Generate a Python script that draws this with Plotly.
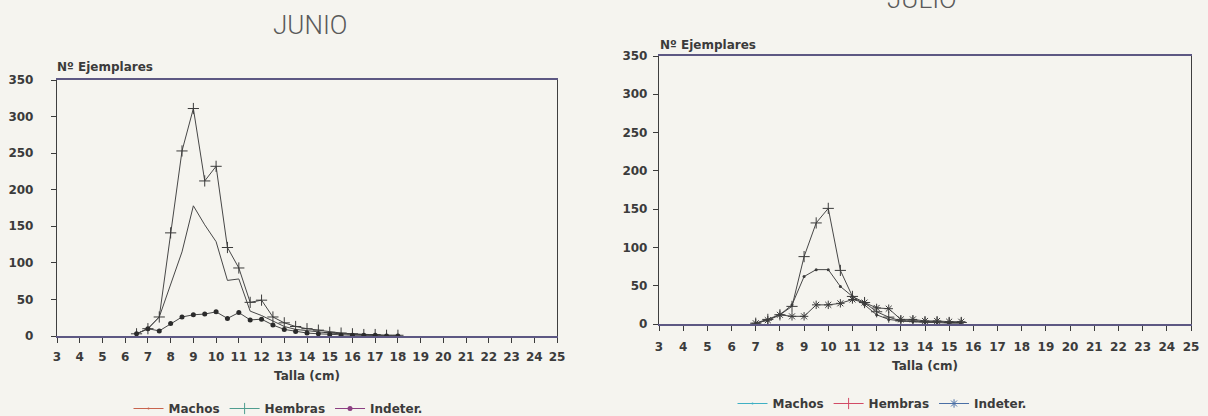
import plotly.graph_objects as go

# Length-frequency of specimens by sex, June and July samples
talla_junio = [6.5, 7, 7.5, 8, 8.5, 9, 9.5, 10, 10.5, 11, 11.5, 12,
               12.5, 13, 13.5, 14, 14.5, 15, 15.5, 16, 16.5, 17, 17.5, 18]
machos_junio = [3, 10, 26, 70, 115, 178, 152, 129, 76, 78, 34, 28,
                20, 13, 9, 7, 5, 4, 3, 2, 1, 1, 0, 0]
hembras_junio = [3, 10, 26, 141, 253, 311, 212, 232, 121, 93, 46, 49,
                 26, 18, 13, 10, 8, 5, 4, 3, 2, 2, 1, 1]
indeter_junio = [3, 10, 7, 17, 26, 29, 30, 33, 24, 32, 22, 23,
                 15, 9, 6, 4, 3, 2, 1, 1, 1, 1, 0, 0]

talla_julio = [7, 7.5, 8, 8.5, 9, 9.5, 10, 10.5, 11, 11.5, 12, 12.5,
               13, 13.5, 14, 14.5, 15, 15.5]
machos_julio = [1, 5, 12, 25, 62, 71, 71, 49, 36, 25, 12, 6,
                4, 3, 2, 2, 1, 1]
hembras_julio = [1, 6, 12, 23, 88, 132, 151, 70, 36, 28, 16, 9,
                 4, 4, 3, 3, 2, 2]
indeter_julio = [1, 5, 12, 10, 10, 25, 25, 27, 32, 28, 21, 20,
                 6, 6, 4, 4, 3, 3]

series_names = ["Machos", "Hembras", "Indeter."]
month_titles = ["JUNIO", "JULIO"]
x_tick_values = list(range(3, 26))
y_tick_values = list(range(0, 351, 50))

W, H = 1208, 416
PAPER = "#f5f4ef"
INK = "#3b3b3b"
LINE = "#474747"
FONT = "DejaVu Sans"


def fx(p):
    return p / W


def fy(p):
    return 1 - p / H


fig = go.Figure()

# --- June panel -----------------------------------------------------------
fig.add_trace(go.Scatter(x=talla_junio, y=machos_junio, mode="lines",
                         line=dict(color=LINE, width=1),
                         xaxis="x", yaxis="y", showlegend=False))
fig.add_trace(go.Scatter(x=talla_junio, y=hembras_junio, mode="lines+markers",
                         line=dict(color=LINE, width=1),
                         marker=dict(symbol="cross-thin", size=8,
                                     line=dict(color=INK, width=1)),
                         xaxis="x", yaxis="y", showlegend=False))
fig.add_trace(go.Scatter(x=talla_junio, y=indeter_junio, mode="lines+markers",
                         line=dict(color=LINE, width=1),
                         marker=dict(symbol="circle", size=5, color="#2b2b2b"),
                         xaxis="x", yaxis="y", showlegend=False))

# --- July panel -----------------------------------------------------------
fig.add_trace(go.Scatter(x=talla_julio, y=machos_julio, mode="lines+markers",
                         line=dict(color=LINE, width=1),
                         marker=dict(symbol="circle", size=3, color=INK),
                         xaxis="x2", yaxis="y2", showlegend=False))
fig.add_trace(go.Scatter(x=talla_julio, y=hembras_julio, mode="lines+markers",
                         line=dict(color=LINE, width=1),
                         marker=dict(symbol="cross-thin", size=8,
                                     line=dict(color=INK, width=1)),
                         xaxis="x2", yaxis="y2", showlegend=False))
fig.add_trace(go.Scatter(x=talla_julio, y=indeter_julio, mode="lines+markers",
                         line=dict(color=LINE, width=1),
                         marker=dict(symbol="asterisk", size=7,
                                     line=dict(color=INK, width=1)),
                         xaxis="x2", yaxis="y2", showlegend=False))

# --- legend keys (coloured, as printed under each panel) -----------------
legend_keys = [
    ("legend", "x", "y", "#c8644e", dict(symbol="circle", size=2, color="#c8644e")),
    ("legend", "x", "y", "#4f9d8f", dict(symbol="cross-thin", size=8,
                                         line=dict(color="#4f9d8f", width=1))),
    ("legend", "x", "y", "#8c3f82", dict(symbol="circle", size=5, color="#8c3f82")),
    ("legend2", "x2", "y2", "#3fb0c4", dict(symbol="circle", size=2, color="#3fb0c4")),
    ("legend2", "x2", "y2", "#d24b66", dict(symbol="cross-thin", size=8,
                                            line=dict(color="#d24b66", width=1))),
    ("legend2", "x2", "y2", "#4a6fa5", dict(symbol="asterisk", size=7,
                                            line=dict(color="#4a6fa5", width=1))),
]
for i, (leg, xa, ya, col, mk) in enumerate(legend_keys):
    fig.add_trace(go.Scatter(x=[None], y=[None], mode="lines+markers",
                             name=series_names[i % 3],
                             line=dict(color=col, width=1), marker=mk,
                             xaxis=xa, yaxis=ya, legend=leg, showlegend=True))

axis_font = dict(family=FONT, size=12, color=INK, weight="bold")


def x_axis(domain, anchor, label_gap, title_gap):
    return dict(domain=domain, anchor=anchor,
                range=[3, 25], tickmode="array", tickvals=x_tick_values,
                ticks="outside", ticklen=5, tickwidth=1, tickcolor=INK,
                showline=True, linecolor="#5d5883", linewidth=1.5, mirror=True,
                showgrid=False, zeroline=False, tickfont=axis_font,
                ticklabelstandoff=label_gap, automargin=False,
                title=dict(text="Talla (cm)", font=axis_font, standoff=title_gap))


def y_axis(domain, anchor, label_gap):
    return dict(domain=domain, anchor=anchor,
                range=[0, 350], tickmode="array", tickvals=y_tick_values,
                ticks="outside", ticklen=5, tickwidth=1, tickcolor=INK,
                showline=True, linecolor="#3f3f3f", linewidth=1.3, mirror=True,
                showgrid=False, zeroline=False, tickfont=axis_font,
                ticklabelstandoff=label_gap, automargin=False)


legend_font = dict(family=FONT, size=12, color=INK, weight="bold")

fig.update_layout(
    width=W, height=H,
    margin=dict(l=0, r=0, t=0, b=0, autoexpand=False),
    paper_bgcolor=PAPER, plot_bgcolor=PAPER,
    font=dict(family=FONT, color=INK),
    xaxis=x_axis([fx(57), fx(557)], "y", 4, 8),
    yaxis=y_axis([fy(336), fy(80)], "x", 15),
    xaxis2=x_axis([fx(659), fx(1191)], "y2", 6, 8),
    yaxis2=y_axis([fy(324), fy(56)], "x2", 3),
    legend=dict(orientation="h", x=fx(278), xanchor="center",
                y=fy(394), yanchor="top", bgcolor="rgba(0,0,0,0)",
                font=legend_font, itemwidth=30, traceorder="normal"),
    legend2=dict(orientation="h", x=fx(882), xanchor="center",
                 y=fy(389), yanchor="top", bgcolor="rgba(0,0,0,0)",
                 font=legend_font, itemwidth=30, traceorder="normal"),
)

# Panel titles and y-axis captions
title_font = dict(family="Liberation Sans Narrow, Roboto", size=26,
                  color="#5a5a5a", weight=300)
fig.add_annotation(text=month_titles[0], x=fx(310), y=fy(25), xref="paper", yref="paper",
                   showarrow=False, xanchor="center", yanchor="middle", font=title_font)
fig.add_annotation(text=month_titles[1], x=fx(922), y=fy(-1), xref="paper", yref="paper",
                   showarrow=False, xanchor="center", yanchor="middle", font=title_font)
for x0, y0 in [(55, 67), (658, 45)]:
    fig.add_annotation(text="Nº Ejemplares", x=fx(x0), y=fy(y0), xref="paper", yref="paper",
                       showarrow=False, xanchor="left", yanchor="middle",
                       font=dict(family=FONT, size=12, color=INK, weight="bold"))

fig.write_html("out.html")
